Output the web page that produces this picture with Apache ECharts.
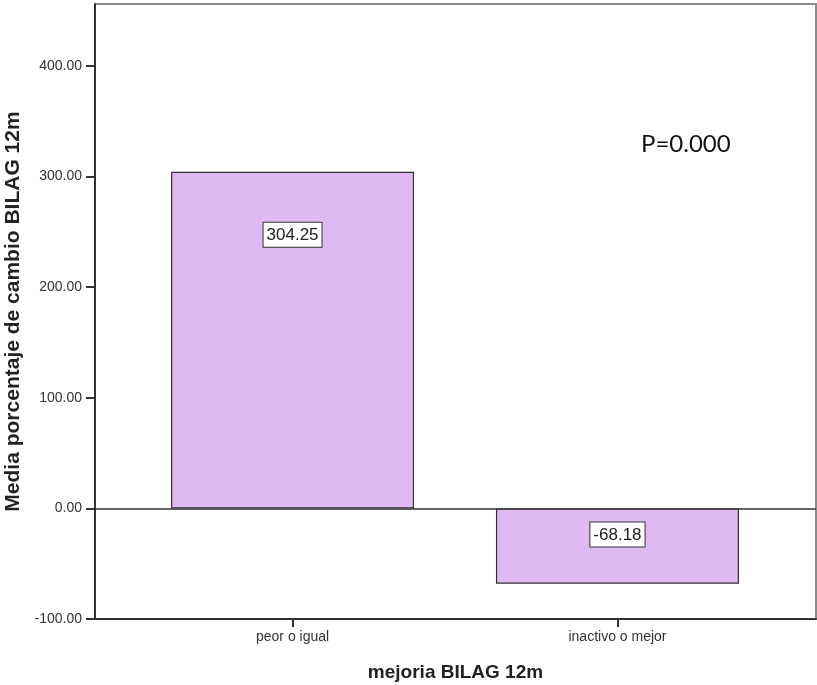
<!DOCTYPE html>
<html>
<head>
<meta charset="utf-8">
<script src="https://cdn.jsdelivr.net/npm/echarts@6/dist/echarts.min.js"></script>
<style>html,body{margin:0;padding:0;background:#fff}#c{width:817px;height:685px}</style>
</head>
<body>
<div id="c"></div>
<script>
const categories = ['peor o igual', 'inactivo o mejor'];
const categoryPositions = [1, 2];
const values = [304.25, -68.18];
const yTicks = [-100, 0, 100, 200, 300, 400];
const pText = 'P=0.000';
const labelDistances = [51, 14];

const chart = echarts.init(document.getElementById('c'));
const barData = values.map((v, i) => ({
  value: [categoryPositions[i], v],
  label: { distance: labelDistances[i] }
}));

chart.setOption({
  animation: false,
  grid: { left: 95, right: 1, top: 4, bottom: 66, outerBoundsMode: 'none', containLabel: false, show: true, borderColor: '#8c8c8c', borderWidth: 2, backgroundColor: '#fff' },
  xAxis: {
    type: 'value', min: 0.392, max: 2.611,
    name: 'mejoria BILAG 12m', nameLocation: 'middle', nameGap: 44,
    nameTextStyle: { fontFamily: 'Liberation Sans, Arial', fontWeight: 'bold', fontSize: 19, color: '#222' },
    axisLine: { onZero: false, lineStyle: { color: '#333', width: 2 } },
    axisTick: { show: true, customValues: categoryPositions, length: 8, lineStyle: { color: '#333', width: 2 } },
    axisLabel: {
      customValues: categoryPositions, margin: 11,
      fontFamily: 'Liberation Sans, Arial', fontSize: 14, color: '#333',
      formatter: v => categories[categoryPositions.indexOf(Math.round(v))] || ''
    },
    splitLine: { show: false }
  },
  yAxis: {
    type: 'value', min: -100, max: 456,
    name: 'Media porcentaje de cambio BILAG 12m', nameLocation: 'middle', nameGap: 71, nameRotate: 90,
    nameTextStyle: { fontFamily: 'Liberation Sans, Arial', fontWeight: 'bold', fontSize: 21, color: '#222' },
    axisLine: { show: true, onZero: false, lineStyle: { color: '#333', width: 2 } },
    axisTick: { show: true, customValues: yTicks, length: 9, lineStyle: { color: '#333', width: 2 } },
    axisLabel: {
      customValues: yTicks, margin: 13,
      fontFamily: 'Liberation Sans, Arial', fontSize: 14, color: '#333',
      formatter: v => v.toFixed(2)
    },
    splitLine: { show: false }
  },
  series: [{
    type: 'bar',
    data: barData,
    barWidth: 243,
    itemStyle: { color: '#dfbaf2', borderColor: '#333', borderWidth: 1.2 },
    label: {
      show: true, position: 'insideTop',
      formatter: p => p.value[1].toFixed(2),
      fontFamily: 'Liberation Sans, Arial', fontSize: 17, color: '#222',
      backgroundColor: '#fff', borderColor: '#333', borderWidth: 1, padding: [4, 3, 3, 3]
    },
    markLine: {
      silent: true, symbol: 'none', label: { show: false },
      lineStyle: { color: '#333', type: 'solid', width: 1.5 },
      data: [{ yAxis: 0 }]
    }
  }],
  graphic: [{
    type: 'text', left: 641, top: 132,
    style: { text: pText, fontFamily: 'Lato, Open Sans, sans-serif', fontSize: 24, fill: '#111' }
  }]
});
</script>
</body>
</html>
